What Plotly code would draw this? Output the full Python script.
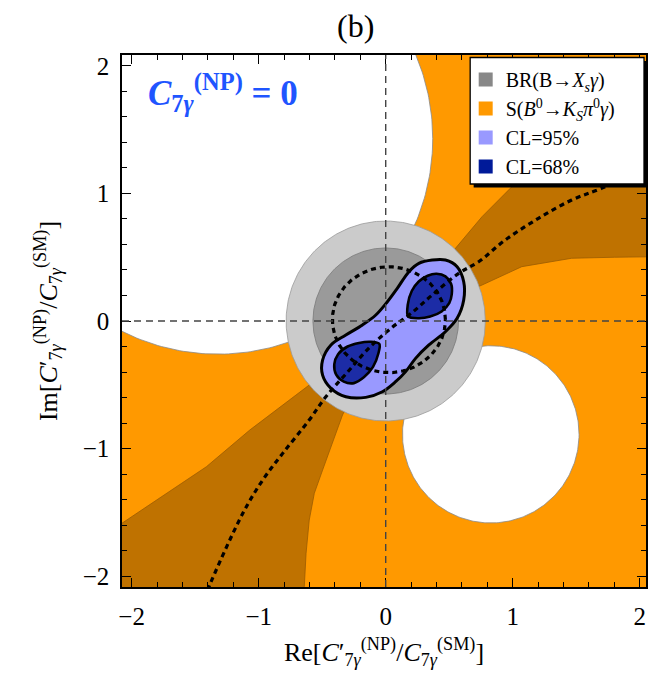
import numpy as np
import plotly.graph_objects as go

# ---------------- data ----------------
x_range = [-2.076, 2.049]
y_range = [-2.086, 2.086]
tick_vals = [-2, -1, 0, 1, 2]

# S(B0->KS pi0 gamma): excluded discs (centre x, centre y, radius)
s_excl_cx = [-1.32, 0.827]
s_excl_cy = [1.43, -0.889]
s_excl_r = [1.69, 0.695]

# overlap (darker) bands of the S constraint
band_ll_x = [-0.40, -0.602, -1.07, -1.412, -2.078, -2.2, -2.2, -0.645, -0.641, -0.627, -0.602, -0.562, -0.497, -0.419, -0.34, -0.22]
band_ll_y = [-0.40, -0.502, -0.855, -1.143, -1.587, -1.675, -2.2, -2.2, -2.084, -1.822, -1.561, -1.351, -1.169, -0.959, -0.737, -0.50]
band_ur_x = [0.40, 0.549, 0.758, 0.993, 1.15, 2.2, 2.2, 2.04, 1.80, 1.464, 1.071, 0.758, 0.50]
band_ur_y = [0.30, 0.57, 0.818, 1.053, 1.22, 1.22, 0.505, 0.505, 0.50, 0.492, 0.426, 0.282, 0.17]

# BR(B->Xs gamma): discs around the origin (outer = light, inner = dark)
br_cx = [0.0, 0.0]
br_cy = [0.0, 0.0]
br_r = [0.784, 0.573]

# CL = 95% region
cl95_x = [0.366, 0.47, 0.562, 0.614, 0.614, 0.562, 0.47, 0.34, 0.235, 0.157, 0.078, -0.026, -0.157,
          -0.314, -0.431, -0.497, -0.497, -0.431, -0.314, -0.183, -0.078, 0.013, 0.091, 0.183, 0.261, 0.366]
cl95_y = [0.478, 0.478, 0.426, 0.308, 0.165, 0.021, -0.084, -0.188, -0.293, -0.397, -0.476, -0.555, -0.599,
          -0.594, -0.528, -0.424, -0.306, -0.188, -0.11, -0.031, 0.047, 0.151, 0.256, 0.387, 0.452, 0.478]

# CL = 68% regions (two teardrop blobs)
cl68a_x = [0.176, 0.174, 0.205, 0.26, 0.33, 0.40, 0.47, 0.515, 0.52, 0.50, 0.44, 0.35, 0.26, 0.176]
cl68a_y = [0.036, 0.13, 0.235, 0.31, 0.355, 0.37, 0.35, 0.29, 0.21, 0.14, 0.075, 0.035, 0.022, 0.036]
cl68b_x = [-0.050, -0.058, -0.10, -0.17, -0.25, -0.33, -0.39, -0.405, -0.375, -0.30, -0.21, -0.12, -0.050]
cl68b_y = [-0.180, -0.255, -0.36, -0.44, -0.487, -0.475, -0.42, -0.34, -0.26, -0.20, -0.172, -0.163, -0.180]

# dotted central curves
dot_x = [-1.40, -1.386, -1.125, -0.968, -0.811, -0.602, -0.471, -0.30, -0.13, 0.05, 0.20, 0.366, 0.575,
         0.732, 0.941, 1.202, 1.464, 1.699, 2.1]
dot_y = [-2.11, -2.071, -1.508, -1.247, -1.038, -0.776, -0.594, -0.40, -0.21, -0.05, 0.06, 0.204, 0.374,
         0.465, 0.635, 0.805, 0.949, 1.04, 1.22]
loop_cx, loop_cy, loop_rx, loop_ry = 0.025, 0.01, 0.445, 0.415

legend_names = ["BR(B→<i>X<sub>s</sub>γ</i>)",
                "S(<i>B</i><sup>0</sup>→<i>K<sub>S</sub>π</i><sup>0</sup><i>γ</i>)",
                "CL=95%", "CL=68%"]
legend_colors = ["#888888", "#ff9900", "#9999ff", "#001a99"]

# ---------------- styles ----------------
ORANGE = "#ff9900"
DARK_ORANGE = "#bf7200"
LIGHT_GREY = "#cbcbcb"
DARK_GREY = "#9a9a9a"
BLUE95 = "#9999ff"
BLUE68 = "#1c2ca6"
FONT = "Liberation Serif"

W, H = 649, 683
ML, MR, MT, MB = 122, 1, 55, 96
PW, PH = W - ML - MR, H - MT - MB


def px_to_paper(px, py):
    return (px - ML) / PW, (H - MB - py) / PH


def ellipse(cx, cy, rx, ry, n=360):
    t = np.linspace(0, 2 * np.pi, n)
    return cx + rx * np.cos(t), cy + ry * np.sin(t)


fig = go.Figure()

# white (excluded) discs of the S constraint
for cx, cy, r in zip(s_excl_cx, s_excl_cy, s_excl_r):
    ex, ey = ellipse(cx, cy, r, r)
    fig.add_trace(go.Scatter(x=ex, y=ey, fill="toself", fillcolor="white", mode="lines",
                             line=dict(color="#8a8a8a", width=0.8), showlegend=False, hoverinfo="skip"))

# darker overlap bands
for bx, by in [(band_ll_x, band_ll_y), (band_ur_x, band_ur_y)]:
    fig.add_trace(go.Scatter(x=bx, y=by, fill="toself", fillcolor=DARK_ORANGE, mode="lines",
                             line=dict(color="#9a5c00", width=0.8), showlegend=False, hoverinfo="skip"))

# BR discs
for cx, cy, r, col, lc in zip(br_cx, br_cy, br_r, [LIGHT_GREY, DARK_GREY], ["#9a9a9a", "#7a7a7a"]):
    ex, ey = ellipse(cx, cy, r, r)
    fig.add_trace(go.Scatter(x=ex, y=ey, fill="toself", fillcolor=col, mode="lines",
                             line=dict(color=lc, width=0.8), showlegend=False, hoverinfo="skip"))

# CL regions
fig.add_trace(go.Scatter(x=cl95_x, y=cl95_y, fill="toself", fillcolor=BLUE95, mode="lines",
                         line=dict(color="black", width=3, shape="spline", smoothing=1.0),
                         showlegend=False, hoverinfo="skip"))
for bx, by in [(cl68a_x, cl68a_y), (cl68b_x, cl68b_y)]:
    fig.add_trace(go.Scatter(x=bx, y=by, fill="toself", fillcolor=BLUE68, mode="lines",
                             line=dict(color="black", width=2.6, shape="spline", smoothing=0.9),
                             showlegend=False, hoverinfo="skip"))

# dotted curves
fig.add_trace(go.Scatter(x=dot_x, y=dot_y, mode="lines",
                         line=dict(color="black", width=3.2, dash="5px,4px", shape="spline"),
                         showlegend=False, hoverinfo="skip"))
lx, ly = ellipse(loop_cx, loop_cy, loop_rx, loop_ry)
fig.add_trace(go.Scatter(x=lx, y=ly, mode="lines",
                         line=dict(color="black", width=3.2, dash="5px,4px"),
                         showlegend=False, hoverinfo="skip"))

# legend entries
for i, (name, col) in enumerate(zip(legend_names, legend_colors)):
    fig.add_trace(go.Scatter(x=[None], y=[None], mode="markers", name=name, legendgroup=f"g{i}",
                             marker=dict(symbol="square", size=14, color=col)))

# zero lines (dashed)
fig.add_shape(type="line", xref="x", yref="paper", x0=0, x1=0, y0=0, y1=1, layer="above",
              line=dict(color="#444444", width=1.4, dash="7px,5px"))
fig.add_shape(type="line", xref="paper", yref="y", x0=0, x1=1, y0=0, y1=0, layer="above",
              line=dict(color="#444444", width=1.4, dash="7px,5px"))

# legend frame with drop shadow
box_l, box_t, box_r, box_b = 471.5, 57.5, 646.0, 184.0
sx0, sy0 = px_to_paper(box_l + 3.5, box_b + 3.5)
sx1, sy1 = px_to_paper(box_r + 3.5, box_t + 3.5)
fig.add_shape(type="rect", xref="paper", yref="paper", x0=sx0, x1=sx1, y0=sy0, y1=sy1,
              layer="above", fillcolor="black", line=dict(width=0))
bx0, by0 = px_to_paper(box_l, box_b)
bx1, by1 = px_to_paper(box_r, box_t)
fig.add_shape(type="rect", xref="paper", yref="paper", x0=bx0, x1=bx1, y0=by0, y1=by1,
              layer="above", fillcolor="white", line=dict(color="black", width=1.3))
lgx, lgy = px_to_paper(467, 60)

axis_common = dict(
    showline=True, linecolor="black", linewidth=1.5, mirror="allticks",
    ticks="inside", ticklen=9, tickwidth=1.2, tickcolor="black",
    tickvals=tick_vals, showgrid=False, zeroline=False,
    tickfont=dict(family=FONT, size=25, color="black"),
    minor=dict(dtick=0.2, tick0=0, ticks="inside", ticklen=5, tickwidth=1, tickcolor="black", showgrid=False),
    ticklabelstandoff=6,
)

fig.update_layout(
    width=W, height=H,
    margin=dict(l=ML, r=MR, t=MT, b=MB),
    paper_bgcolor="white", plot_bgcolor=ORANGE,
    font=dict(family=FONT, color="black"),
    xaxis=dict(range=x_range, **axis_common,
               title=dict(text="Re[<i>C</i>′<sub>7<i>γ</i></sub><sup>(NP)</sup>/<i>C</i><sub>7<i>γ</i></sub><sup>(SM)</sup>]",
                          font=dict(family=FONT, size=26), standoff=14)),
    yaxis=dict(range=y_range, **axis_common,
               title=dict(text="Im[<i>C</i>′<sub>7<i>γ</i></sub><sup>(NP)</sup>/<i>C</i><sub>7<i>γ</i></sub><sup>(SM)</sup>]",
                          font=dict(family=FONT, size=26), standoff=18)),
    legend=dict(x=lgx, y=lgy, xanchor="left", yanchor="top", bgcolor="rgba(0,0,0,0)",
                borderwidth=0, itemwidth=30, tracegroupgap=0,
                font=dict(family=FONT, size=20, color="black")),
    showlegend=True,
)

fig.add_annotation(xref="paper", yref="paper", x=0.446, y=1.055, xanchor="center", yanchor="middle",
                   text="(b)", showarrow=False, font=dict(family=FONT, size=32, color="black"))
fig.add_annotation(xref="paper", yref="paper", x=0.046, y=0.93, xanchor="left", yanchor="middle",
                   text="<b><i>C</i><sub>7<i>γ</i></sub><sup>(NP)</sup> = 0</b>", showarrow=False,
                   font=dict(family=FONT, size=35, color="#1f55ff"))

fig.write_html("out.html")
